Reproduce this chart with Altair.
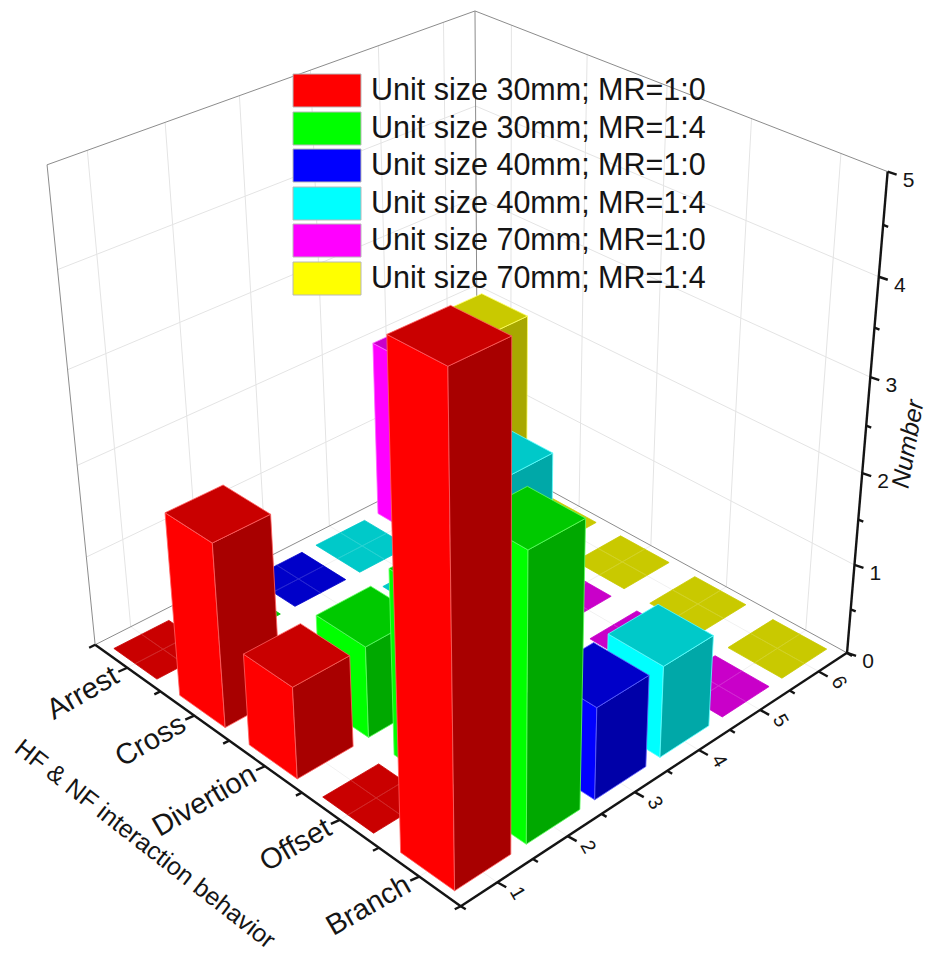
import altair as alt
import numpy as np
import pandas as pd

# ---------- data ----------
behaviors = ["Arrest", "Cross", "Divertion", "Offset", "Branch"]
series_names = ["Unit size 30mm; MR=1:0", "Unit size 30mm; MR=1:4", "Unit size 40mm; MR=1:0",
                "Unit size 40mm; MR=1:4", "Unit size 70mm; MR=1:0", "Unit size 70mm; MR=1:4"]
series_ticks = ["1", "2", "3", "4", "5", "6"]
number_ticks = ["0", "1", "2", "3", "4", "5"]
s1 = [0, 2, 1, 0, 5]
s2 = [0, 0, 1, 2, 3]
s3 = [0, 0, 0, 0, 1]
s4 = [0, 0, 2, 0, 1]
s5 = [2, 0, 0, 0, 0]
s6 = [2, 0, 0, 0, 0]
values = [s1, s2, s3, s4, s5, s6]
base_rgb = [(255, 0, 0), (0, 255, 0), (0, 0, 255), (0, 255, 255), (255, 0, 255), (255, 255, 0)]

# ---------- camera (perspective view of the unit box) ----------
anchors = [
    ((0, 0, 0), (97, 644)), ((1, 0, 0), (460, 905)), ((1, 1, 0), (847, 652)), ((0, 1, 0), (476, 451)),
    ((0, 0, 1), (47, 165)), ((0, 1, 1), (476, 10)), ((1, 1, 1), (888, 171)),
    ((.1, 0, 0), (128, 668)), ((.3, 0, 0), (193, 717)), ((.5, 0, 0), (265, 766)),
    ((.7, 0, 0), (338, 821)), ((.9, 0, 0), (417, 877)),
    ((1, 1 / 12, 0), (498, 882)), ((1, 3 / 12, 0), (568, 835)), ((1, 5 / 12, 0), (637, 792)),
    ((1, 7 / 12, 0), (700, 750)), ((1, 9 / 12, 0), (762, 710)), ((1, 11 / 12, 0), (820, 672)),
    ((1, 1, .2), (853, 565)), ((1, 1, .4), (861, 473)), ((1, 1, .6), (869, 378)), ((1, 1, .8), (879, 278)),
]
A, b = [], []
for (u, v, w), (px, py) in anchors:
    A.append([u, v, w, 1, 0, 0, 0, 0, -px * u, -px * v, -px * w]); b.append(px)
    A.append([0, 0, 0, 0, u, v, w, 1, -py * u, -py * v, -py * w]); b.append(py)
cam = np.append(np.linalg.lstsq(np.array(A, float), np.array(b, float), rcond=None)[0], 1.0).reshape(3, 4)


def proj(u, v, w):
    p = cam @ np.array([u, v, w, 1.0])
    return float(p[0] / p[2]), float(p[1] / p[2])


def data_pt(i, j, z):
    """behaviour coordinate i, series coordinate j (cell units), number z"""
    return proj(i / 5, j / 6, z / 5)


def hexc(rgb):
    return "#%02x%02x%02x" % tuple(int(round(c)) for c in rgb)


# ---------- polygons, painted back to front ----------
rows = []
pid = [0]


def add_poly(pts, fill, stroke):
    pid[0] += 1
    xs = sorted({round(p[0], 3) for p in pts})
    n = len(pts)
    for x in xs:
        ys = []
        for k in range(n):
            (x0, y0), (x1, y1) = pts[k], pts[(k + 1) % n]
            lo, hi = min(x0, x1), max(x0, x1)
            if lo - 0.002 <= x <= hi + 0.002:
                if abs(x1 - x0) < 1e-6:
                    ys += [y0, y1]
                else:
                    ys.append(y0 + (y1 - y0) * (x - x0) / (x1 - x0))
        rows.append(dict(pid=pid[0], x=x, y=min(ys), y2=max(ys), fill=fill, stroke=stroke))


def add_line(a, b, col):
    pid[0] += 1
    rows.append(dict(pid=pid[0], x=a[0], y=a[1], y2=a[1], fill=col, stroke=col))
    rows.append(dict(pid=pid[0], x=b[0], y=b[1], y2=b[1], fill=col, stroke=col))


BAR_U = 0.66
BAR_V = 0.78
for i in range(5):
    for j in range(5, -1, -1):
        val = values[j][i]
        rgb = np.array(base_rgb[j], float)
        edge = hexc(rgb + (255 - rgb) * 0.38)
        soft = hexc(rgb * 0.79 + (255 - rgb * 0.79) * 0.16)
        top = hexc(rgb * 0.79)
        u0, u1 = i + .5 - BAR_U / 2, i + .5 + BAR_U / 2
        v0, v1 = j + .5 - BAR_V / 2, j + .5 + BAR_V / 2
        if val > 0:
            add_poly([data_pt(u0, v0, 0), data_pt(u1, v0, 0), data_pt(u1, v0, val), data_pt(u0, v0, val)],
                     hexc(rgb), edge)
            add_poly([data_pt(u1, v0, 0), data_pt(u1, v1, 0), data_pt(u1, v1, val), data_pt(u1, v0, val)],
                     hexc(rgb * 0.66), edge)
            add_poly([data_pt(u0, v0, val), data_pt(u1, v0, val), data_pt(u1, v1, val), data_pt(u0, v1, val)],
                     top, edge)
        else:
            add_poly([data_pt(u0, v0, 0), data_pt(u1, v0, 0), data_pt(u1, v1, 0), data_pt(u0, v1, 0)], top, top)
            add_line(data_pt(i + .5, v0, 0), data_pt(i + .5, v1, 0), soft)
            add_line(data_pt(u0, j + .5, 0), data_pt(u1, j + .5, 0), soft)
polys = pd.DataFrame(rows)


# ---------- grid, frame, axes ----------
def seg(a, b, off=(0, 0)):
    return dict(x=a[0], y=a[1], x2=b[0] + off[0], y2=b[1] + off[1])


grid = []
for j in range(6):
    grid.append(seg(data_pt(0, j + .5, 0), data_pt(0, j + .5, 5)))
for i in range(5):
    grid.append(seg(data_pt(i + .5, 6, 0), data_pt(i + .5, 6, 5)))
for z in range(1, 5):
    grid.append(seg(data_pt(0, 0, z), data_pt(0, 6, z)))
    grid.append(seg(data_pt(0, 6, z), data_pt(5, 6, z)))
grid = pd.DataFrame(grid)

floor = []
for j in range(6):
    floor.append(seg(data_pt(0, j + .5, 0), data_pt(5, j + .5, 0)))
for i in range(5):
    floor.append(seg(data_pt(i + .5, 0, 0), data_pt(i + .5, 6, 0)))
floor = pd.DataFrame(floor)

frame = pd.DataFrame([
    seg(data_pt(0, 0, 0), data_pt(0, 0, 5)), seg(data_pt(0, 0, 5), data_pt(0, 6, 5)),
    seg(data_pt(0, 6, 5), data_pt(5, 6, 5)), seg(data_pt(0, 6, 0), data_pt(0, 6, 5)),
    seg(data_pt(0, 0, 0), data_pt(0, 6, 0)), seg(data_pt(0, 6, 0), data_pt(5, 6, 0)),
])

axis_lines = [seg(data_pt(0, 0, 0), data_pt(5, 0, 0)), seg(data_pt(5, 0, 0), data_pt(5, 6, 0)),
              seg(data_pt(5, 6, 0), data_pt(5, 6, 5))]
ticks, labels = [], []
for i in range(6):
    p = data_pt(i, 0, 0)
    ticks.append(seg(p, p, (-6, 3)))
for i in range(5):
    p = data_pt(i + .5, 0, 0)
    ticks.append(seg(p, p, (-9, 4)))
    labels.append(dict(x=p[0] - 11, y=p[1] + 6, t=behaviors[i], a=330, al="right", fs=29, st="normal"))
for j in range(7):
    p = data_pt(5, j, 0)
    ticks.append(seg(p, p, (5, 3)))
for j in range(6):
    p = data_pt(5, j + .5, 0)
    ticks.append(seg(p, p, (9, 5)))
    labels.append(dict(x=p[0] + 20, y=p[1] + 11, t=series_ticks[j], a=60, al="center", fs=20, st="normal"))
for z in range(6):
    p = data_pt(5, 6, z)
    ticks.append(seg(p, p, (9, 3)))
    labels.append(dict(x=p[0] + 21, y=p[1] + 9, t=number_ticks[z], a=0, al="center", fs=21, st="normal"))
    if z < 5:
        q = data_pt(5, 6, z + .5)
        ticks.append(seg(q, q, (5, 2)))
labels.append(dict(x=145, y=844, t="HF & NF interaction behavior", a=38, al="center", fs=25, st="normal"))
labels.append(dict(x=908, y=444, t="Number", a=280, al="center", fs=25, st="italic"))
axis_df = pd.DataFrame(axis_lines + ticks)
labels = pd.DataFrame(labels)

# ---------- legend ----------
leg_top = [74, 112, 149, 187, 224, 262]
leg = pd.DataFrame(dict(x=[293] * 6, x2=[361] * 6, y=leg_top, y2=[t + 33 for t in leg_top],
                        fill=[hexc(c) for c in base_rgb], name=series_names, tx=[371] * 6,
                        ty=[t + 17 for t in leg_top]))

# ---------- chart ----------
X = alt.Scale(domain=[8, 926], nice=False, zero=False)
Y = alt.Scale(domain=[952, 8], nice=False, zero=False)
xq = alt.X("x:Q", scale=X, axis=None)
yq = alt.Y("y:Q", scale=Y, axis=None)


def rules(df, color, width):
    return alt.Chart(df).mark_rule(color=color, strokeWidth=width).encode(
        x=xq, y=yq, x2=alt.X2("x2:Q"), y2=alt.Y2("y2:Q"))


bars = alt.Chart(polys).mark_area(orient="vertical", strokeWidth=0.8, opacity=1, interpolate="linear").encode(
    x=xq, y=yq, y2=alt.Y2("y2:Q"),
    detail="pid:O",
    fill=alt.Fill("fill:N", scale=None),
    stroke=alt.Stroke("stroke:N", scale=None),
)

legend_rects = alt.Chart(leg).mark_rect(stroke="#b8b8b8", strokeWidth=1).encode(
    x=xq, y=yq, x2=alt.X2("x2:Q"), y2=alt.Y2("y2:Q"), fill=alt.Fill("fill:N", scale=None))
legend_text = alt.Chart(leg).mark_text(align="left", baseline="middle", font="Liberation Sans", fontSize=30.5,
                                       color="#151515").encode(
    x=alt.X("tx:Q", scale=X, axis=None), y=alt.Y("ty:Q", scale=Y, axis=None), text="name:N")

label_layers = []
for (a, al, fs, st), g in labels.groupby(["a", "al", "fs", "st"]):
    label_layers.append(alt.Chart(g).mark_text(angle=float(a), align=al, baseline="middle", fontSize=fs,
                                               fontStyle=st, font="Liberation Sans", color="#151515").encode(
        x=xq, y=yq, text="t:N"))

chart = alt.layer(
    rules(grid, "#e4e4e4", 1),
    rules(floor, "#f1f1f1", 1),
    rules(frame, "#8c8c8c", 1),
    bars,
    rules(axis_df, "#141414", 2.4),
    legend_rects,
    legend_text,
    *label_layers,
).properties(width=918, height=944, padding=0,
             autosize=alt.AutoSizeParams(type="none"),
             background="white").configure_view(stroke=None)

chart.save("out.html", embed_options={"renderer": "svg", "actions": False})
